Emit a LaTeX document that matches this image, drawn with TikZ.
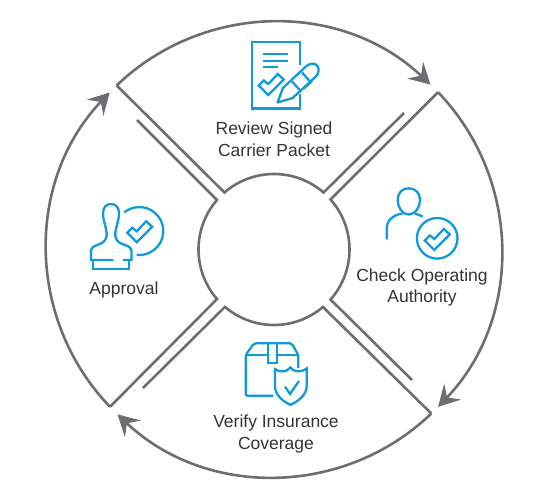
\documentclass[tikz,border=0pt]{standalone}
\usepackage{fontspec}
\setmainfont{Liberation Sans}
\usepackage{xcolor}
\usetikzlibrary{arrows.meta}
\definecolor{cring}{HTML}{6D6E71}
\definecolor{cicon}{HTML}{0F9BD7}
\definecolor{ctext}{HTML}{333333}
\tikzset{
  ringline/.style={draw=cring, line width=2.6pt, line join=miter},
  ringarrow/.style={ringline, -{Stealth[length=21pt, width=23pt, inset=8pt]}},
  iconline/.style={draw=cicon, line width=2.3pt, line join=miter},
  steplabel/.style={align=center, text=ctext, font=\fontsize{17.5}{21.7}\selectfont},
  tickmark/.pic={
    \draw[iconline] (-9.5,-9.5) -- (0,0) -- (15.5,-15.5) -- (9.5,-21) -- (0,-11) -- (-4.5,-14.5) -- cycle;
  }
}

\begin{document}
\begin{tikzpicture}[x=1pt, y=1pt]
  \useasboundingbox (-274,-246.5) rectangle (271,249.5);

  % corners on the inner and outer circles
  \coordinate (outerTL) at (133.8:227.3);
  \coordinate (outerTR) at (43.8:227.3);
  \coordinate (outerBR) at (-46.2:227.3);
  \coordinate (outerBL) at (-136.2:227.3);
  \coordinate (freeTL) at (-137,129.5);
  \coordinate (freeTR) at (130,136.5);
  \coordinate (freeBR) at (138,-130.5);
  \coordinate (freeBL) at (-131,-138.5);

  % top sector
  \draw[ringline] (freeTR) -- (49:75.5) arc[start angle=49, end angle=131, radius=75.5] -- (outerTL);
  \draw[ringarrow] (outerTL) arc[start angle=133.8, end angle=46.5, radius=227.3];
  % right sector
  \draw[ringline] (freeBR) -- (-41.5:75.5) arc[start angle=-41.5, end angle=41.5, radius=75.5] -- (outerTR);
  \draw[ringarrow] (outerTR) arc[start angle=43.8, end angle=-43.8, radius=227.3];
  % bottom sector
  \draw[ringline] (freeBL) -- (-130.5:75.5) arc[start angle=-130.5, end angle=-49.6, radius=75.5] -- (outerBR);
  \draw[ringarrow] (outerBR) arc[start angle=-46.2, end angle=-133.5, radius=227.3];
  % left sector
  \draw[ringline] (freeTL) -- (139:75.5) arc[start angle=139, end angle=221, radius=75.5] -- (outerBL);
  \draw[ringarrow] (outerBL) arc[start angle=223.8, end angle=136.3, radius=227.3];

  \node[steplabel] (review) at (0,110.5) {Review Signed\\Carrier Packet};
  \node[steplabel] (authority) at (148,-38) {Check Operating\\Authority};
  \node[steplabel] (insurance) at (2,-184.5) {Verify Insurance\\Coverage};
  \node[steplabel] (approval) at (-150,-40) {Approval};

  % icons, in picture pixels
  \begin{scope}[shift={(-274,249.5)}, yscale=-1]
    % document and pen
    \draw[iconline] (300,65) -- (300,42) -- (252,42) -- (252,108.5) -- (300,108.5) -- (300,94);
    \draw[iconline] (262.7,54.3) -- (288.3,54.3) (262.7,60.7) -- (288.3,60.7) (262.7,66.7) -- (278.3,66.7);
    \pic[transform shape] at (268.3,95) {tickmark};
    \draw[iconline, line join=round] (277.5,102.5) -- (283,87.9) -- (306.4,66.1)
      .. controls (310.5,62.5) and (316,63) .. (317.8,66.5) .. controls (319.5,70) and (318.5,73.5) .. (316,76.3)
      -- (292.6,98.1) -- cycle;
    \draw[iconline] (292,81.5) -- (301,91.5) (302,72.5) -- (311,82.5);
    \draw[iconline] (304,88.5) -- (312,81);

    % person and ring
    \draw[iconline] (408.7,188.3) .. controls (402,188.3) and (397.7,193) .. (397.7,200)
      .. controls (397.7,207) and (402,214.5) .. (408.7,214.5)
      .. controls (415.5,214.5) and (420,207) .. (420,200)
      .. controls (420,193) and (415.5,188.3) .. (408.7,188.3) -- cycle;
    \draw[iconline] (386.7,239.3) -- (386.7,229) .. controls (386.7,220) and (393,215) .. (402.5,213.5);
    \draw[iconline] (415,213.5) -- (422.7,216.5);
    \draw[iconline] (437.2,238.3) circle[radius=20.3];
    \pic[transform shape] at (434.3,250) {tickmark};

    % box and shield
    \draw[iconline, rounded corners=2pt] (298.3,368) -- (298.3,355) -- (291.7,343.3) -- (254,343.3) -- (245.7,355)
      -- (245.7,395.7) -- (273.3,395.7);
    \draw[iconline] (245.7,355) -- (267.7,355) (276.7,355) -- (298.3,355);
    \draw[iconline] (267.7,343.3) -- (267.7,363.3) -- (276.7,363.3) -- (276.7,343.3);
    \draw[iconline] (275,369) .. controls (279,372.5) and (287,372.5) .. (290.3,367.5)
      .. controls (294,372.5) and (302,372.5) .. (306.7,368.5) -- (306.7,386)
      .. controls (306.7,395) and (298,401.5) .. (290.3,404.8)
      .. controls (283,401.5) and (275,395) .. (275,386) -- cycle;
    \draw[iconline] (285,386.7) -- (290,394) -- (299,381);

    % stamp and ring
    \draw[iconline] (113.5,260) -- (91,260) -- (91,252) .. controls (91,245) and (97,246) .. (102,243)
      .. controls (108,239) and (107,234) .. (106,229) .. controls (105,224) and (103,219) .. (103,213.5)
      .. controls (103,207) and (106.5,204) .. (111,204) .. controls (115.5,204) and (119,207) .. (119,213.5)
      .. controls (119,219) and (117,224) .. (116,229) .. controls (115,234) and (114,239) .. (120,243)
      .. controls (125,246) and (131.5,245) .. (131.5,252) -- (131.5,260) -- (123,260);
    \draw[iconline] (93.3,260) -- (93.3,269) -- (129.3,269) -- (129.3,260);
    \draw[iconline] (124.3,212.3) arc[start angle=-128.7, end angle=96.6, radius=24];
    \pic[transform shape] at (136.7,242.3) {tickmark};
  \end{scope}
\end{tikzpicture}
\end{document}
